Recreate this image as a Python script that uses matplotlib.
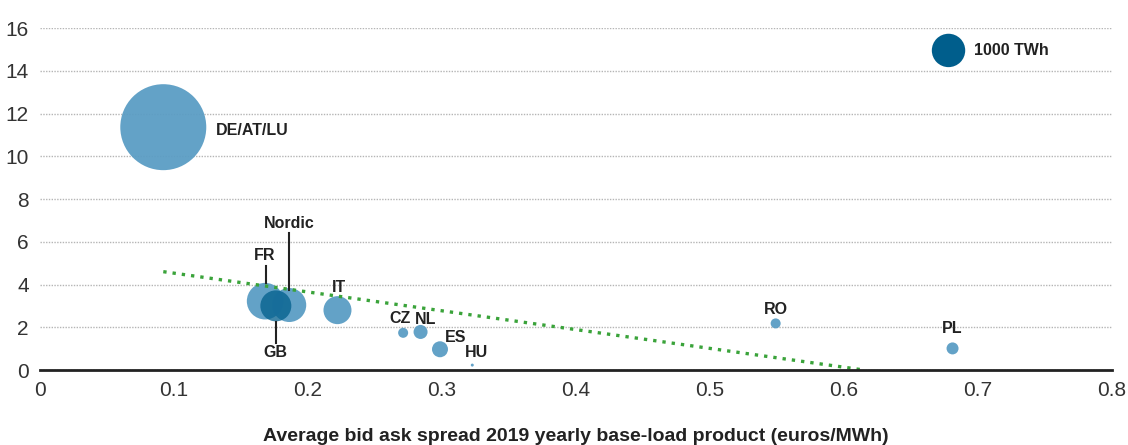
import numpy as np
import matplotlib
matplotlib.use("Agg")
import matplotlib.pyplot as plt

plt.rcParams['font.family'] = ['Liberation Sans Narrow', 'Liberation Sans', 'DejaVu Sans']

# market data: bid-ask spread (x), y value, traded volume (TWh) for bubble size
markets = ["DE/AT/LU", "FR", "Nordic", "GB", "IT", "CZ", "NL", "ES", "HU", "RO", "PL"]
spread = [0.092, 0.168, 0.186, 0.176, 0.222, 0.271, 0.284, 0.2985, 0.3226, 0.549, 0.681]
yvals = [11.36, 3.22, 3.04, 3.0, 2.8, 1.74, 1.78, 0.97, 0.23, 2.18, 1.01]
volume = [6630, 1200, 1036, 861, 703, 90, 176, 229, 8, 90, 129]

# legend bubble
legend_volume = 1000
legend_pos = (0.678, 14.95)

# trend line (linear fit)
trend_slope = -8.8
trend_intercept = 5.41

light = "#5b9dc4"
dark = "#005e8c"
size_k = 0.578  # points^2 per TWh

fig = plt.figure(figsize=(11.28, 4.45), dpi=100)
ax = fig.add_axes([40 / 1128, 75 / 445, 1072 / 1128, 342 / 445])

sizes = np.array(volume) * size_k
colors = [dark if m == "GB" else light for m in markets]
alphas = [0.75 if m == "GB" else 0.95 for m in markets]
for xi, yi, si, ci, ai in zip(spread, yvals, sizes, colors, alphas):
    ax.scatter(xi, yi, s=si, color=ci, alpha=ai, edgecolors="none", zorder=3, clip_on=False)

ax.scatter(*legend_pos, s=legend_volume * size_k, color=dark, edgecolors="none", zorder=3, clip_on=False)
ax.text(legend_pos[0] + 0.019, legend_pos[1], "1000 TWh", fontsize=11.5, fontweight="bold",
        color="#222222", va="center", ha="left")

# trend line from smallest spread down to zero crossing
x0 = min(spread)
x1 = trend_intercept / -trend_slope
tx = np.array([x0, x1])
ax.plot(tx, trend_intercept + trend_slope * tx, color="#3aa33a", lw=2.4, ls=(0, (1, 1.8)), zorder=4)

# labels
lab = dict(fontsize=11.5, fontweight="bold", color="#222222", ha="center", va="center", zorder=5)
ax.text(0.131, 11.2, "DE/AT/LU", **{**lab, "ha": "left"})
ax.text(0.168, 5.37, "FR", **lab)
ax.text(0.1858, 6.87, "Nordic", **lab)
ax.text(0.176, 0.84, "GB", **lab)
ax.text(0.223, 3.88, "IT", **lab)
ax.text(0.2685, 2.43, "CZ", **lab)
ax.text(0.2875, 2.34, "NL", **lab)
ax.text(0.31, 1.54, "ES", **lab)
ax.text(0.326, 0.84, "HU", **lab)
ax.text(0.549, 2.85, "RO", **lab)
ax.text(0.681, 1.92, "PL", **lab)

# leader lines
ax.plot([0.169, 0.169], [4.86, 4.07], color="#222222", lw=1.5, zorder=5)
ax.plot([0.1858, 0.1858], [6.4, 3.74], color="#222222", lw=1.5, zorder=5)
ax.plot([0.176, 0.176], [2.24, 1.26], color="#222222", lw=1.5, zorder=5)

ax.set_xlim(0, 0.8)
ax.set_ylim(0, 16)
ax.set_xticks(np.arange(0, 0.81, 0.1))
ax.set_xticklabels(["0", "0.1", "0.2", "0.3", "0.4", "0.5", "0.6", "0.7", "0.8"])
ax.set_yticks(np.arange(0, 17, 2))
ax.yaxis.grid(True, color="#b5b5b5", ls=(0, (1, 1)), lw=1)
ax.set_axisbelow(True)
for s in ["left", "right", "top"]:
    ax.spines[s].set_visible(False)
ax.spines["bottom"].set_color("#222222")
ax.spines["bottom"].set_linewidth(2)
ax.spines["bottom"].set_zorder(6)
ax.tick_params(axis="both", length=0, labelsize=15, labelcolor="#333333")
ax.tick_params(axis="x", pad=8)
ax.tick_params(axis="y", pad=8)
ax.set_xlabel("Average bid ask spread 2019 yearly base-load product (euros/MWh)",
              fontsize=14, fontweight="bold", color="#222222", labelpad=20)

fig.savefig("out.png", dpi=100)
